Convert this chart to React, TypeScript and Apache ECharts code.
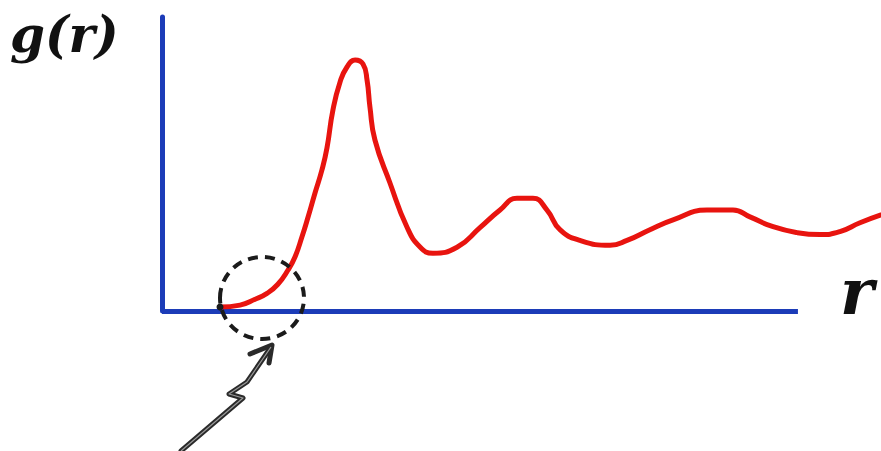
import React, { useEffect, useRef } from "react";
import * as echarts from "echarts";

// Radial distribution function g(r), sampled along the hand-drawn curve
const rValues: number[] = [
  0.301, 0.405, 0.483, 0.545, 0.6, 0.654, 0.69, 0.726, 0.758, 0.794, 0.83,
  0.856, 0.887, 0.924, 0.96, 1.002, 1.043, 1.064, 1.079, 1.105, 1.183, 1.271,
  1.339, 1.406, 1.531, 1.65, 1.754, 1.842, 1.925, 1.998, 2.065, 2.169, 2.325,
  2.413, 2.532, 2.652, 2.828, 2.963, 3.051, 3.171, 3.295, 3.415, 3.518, 3.622,
  3.731,
];
const gValues: number[] = [
  0.04, 0.06, 0.12, 0.18, 0.27, 0.418, 0.551, 0.755, 0.959, 1.204, 1.439,
  1.663, 2.051, 2.337, 2.49, 2.561, 2.52, 2.357, 2.082, 1.745, 1.306, 0.857,
  0.653, 0.59, 0.65, 0.85, 1.03, 1.15, 1.15, 1.03, 0.83, 0.72, 0.67, 0.72,
  0.83, 0.93, 1.03, 1.03, 0.96, 0.86, 0.8, 0.78, 0.81, 0.9, 0.98,
];

// extent of the drawn r axis
const rAxisEnd = 3.3;

const yLabel = "g(r)";
const xLabel = "r";

const AXIS_BLUE = "#1c3cb8";
const CURVE_RED = "#e8140f";
const INK = "#1b1b1b";

export default function App() {
  const ref = useRef<HTMLDivElement>(null);

  useEffect(() => {
    if (!ref.current) return;
    const chart = echarts.init(ref.current, undefined, { renderer: "svg" });

    const data = rValues.map((r, i) => {
      if (i === 0) {
        return {
          value: [r, gValues[i]],
          symbol: "circle",
          symbolSize: 7,
          itemStyle: { color: INK },
        };
      }
      return { value: [r, gValues[i]] };
    });

    const arrowShaft = [
      [181, 451],
      [243, 398],
      [229, 394],
      [247, 382],
      [271, 347],
    ];

    chart.setOption({
      animation: false,
      backgroundColor: "#ffffff",
      grid: { left: 162, top: 17, right: 0, height: 294, containLabel: false },
      xAxis: {
        type: "value",
        min: 0,
        max: 3.731,
        axisLine: { show: false },
        axisTick: { show: false },
        axisLabel: { show: false },
        splitLine: { show: false },
      },
      yAxis: {
        type: "value",
        min: 0,
        max: 3,
        axisLine: { show: true, lineStyle: { color: AXIS_BLUE, width: 5 } },
        axisTick: { show: false },
        axisLabel: { show: false },
        splitLine: { show: false },
      },
      series: [
        {
          type: "line",
          data,
          smooth: 0.5,
          symbol: "none",
          showSymbol: true,
          lineStyle: { color: CURVE_RED, width: 5, cap: "round", join: "round" },
          z: 3,
          markLine: {
            silent: true,
            symbol: ["none", "none"],
            label: { show: false },
            lineStyle: { type: "solid", color: AXIS_BLUE, width: 5 },
            data: [[{ coord: [0, 0] }, { coord: [rAxisEnd, 0] }]],
            z: 1,
          },
        },
      ],
      graphic: [
        {
          type: "text",
          left: 10,
          top: 9,
          style: {
            text: yLabel,
            font: "italic bold 50px 'DejaVu Serif'",
            fill: "#111",
          },
        },
        {
          type: "text",
          left: 840,
          top: 259,
          style: {
            text: xLabel,
            font: "italic bold 64px 'DejaVu Serif'",
            fill: "#111",
          },
        },
        // dashed ring around the onset of the curve
        {
          type: "ellipse",
          shape: { cx: 262, cy: 298, rx: 42, ry: 41 },
          style: { fill: "none", stroke: INK, lineWidth: 4, lineDash: [10, 7] },
          z: 10,
        },
        // squiggly pointer arrow, dark outline with lighter core
        {
          type: "polyline",
          shape: { points: arrowShaft },
          style: { fill: "none", stroke: "#2a2a2a", lineWidth: 5, lineJoin: "round", lineCap: "round" },
          z: 10,
        },
        {
          type: "polyline",
          shape: { points: arrowShaft },
          style: { fill: "none", stroke: "#9a9a9a", lineWidth: 1.2, lineJoin: "round" },
          z: 11,
        },
        {
          type: "polyline",
          shape: {
            points: [
              [250, 354],
              [272, 345],
              [269, 363],
            ],
          },
          style: { fill: "none", stroke: "#2a2a2a", lineWidth: 5, lineJoin: "round", lineCap: "round" },
          z: 10,
        },
      ],
    });

    return () => chart.dispose();
  }, []);

  return (
    <div
      ref={ref}
      style={{ position: "fixed", left: 0, top: 0, width: 881, height: 451 }}
    />
  );
}
